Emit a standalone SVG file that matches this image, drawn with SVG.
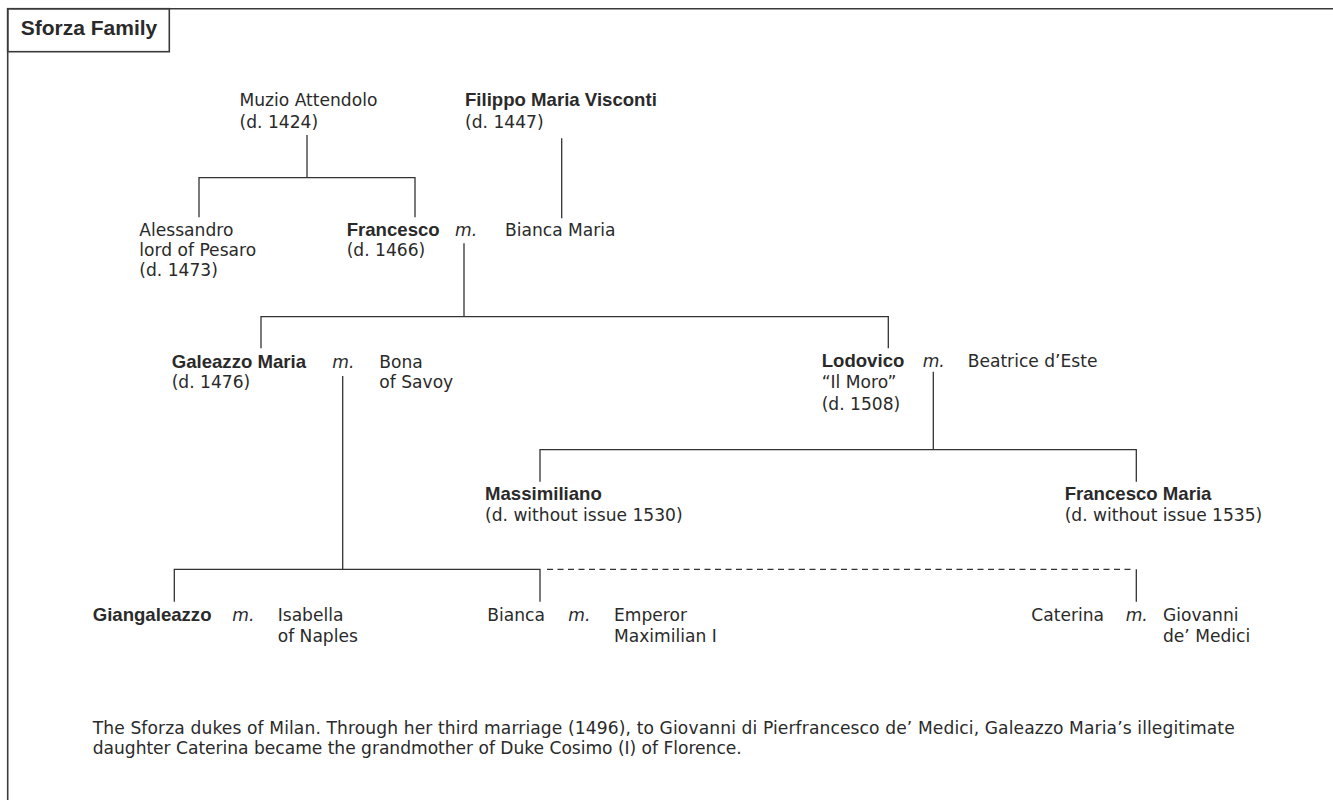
<svg xmlns="http://www.w3.org/2000/svg" width="1333" height="800" viewBox="0 0 1333 800">
<style>
text{font-family:"DejaVu Sans","Liberation Sans",Arial,sans-serif;font-size:17.1px;fill:#2a2a2a}
.b{font-family:"Liberation Sans",Arial,sans-serif;font-weight:bold;font-size:18.6px}
.i{font-style:italic}
.t{font-family:"Liberation Sans",Arial,sans-serif;font-weight:bold;font-size:21px}
.ln{fill:none;stroke:#333;stroke-width:1.3}
.d{stroke-dasharray:6 4.5}
.frame{fill:none;stroke:#3a3a3a;stroke-width:1.6}
</style>
<rect width="1333" height="800" fill="#fff"/>
<path class="frame" d="M7.7 800 V8.7 H1333"/>
<g id="title">
<rect class="frame" x="7.7" y="8.7" width="161.6" height="43"/>
<text class="t" x="20.7" y="35">Sforza Family</text>
</g>
<g id="connectors">
<path class="ln" d="M307 135 V177.7 M199 217.3 V177.7 H415 V217.3"/>
<path class="ln" d="M561.7 138.3 V218.3"/>
<path class="ln" d="M464 243.3 V316.7 M261 348.3 V316.7 H888.3 V348.3"/>
<path class="ln" d="M342.7 376 V569.3 M174.3 601.7 V569.3 H540 V601.7"/>
<path class="ln" d="M933.3 371.7 V449.7 M540 481.7 V449.7 H1136.3 V481.7"/>
<path class="ln d" d="M547 569.3 H1135"/>
<path class="ln" d="M1136.3 569.3 V601.7"/>
</g>
<g id="muzio"><text x="239.5" y="106">Muzio Attendolo<tspan x="239.5" y="127.7">(d. 1424)</tspan></text></g>
<g id="filippo"><text x="465" y="106"><tspan class="b">Filippo Maria Visconti</tspan><tspan x="465" y="128">(d. 1447)</tspan></text></g>
<g id="alessandro"><text x="139.3" y="235.7">Alessandro<tspan x="139.3" y="255.7">lord of Pesaro</tspan><tspan x="139.3" y="275.7">(d. 1473)</tspan></text></g>
<g id="francesco"><text x="346.7" y="235.7"><tspan class="b">Francesco</tspan><tspan x="346.7" y="255.7">(d. 1466)</tspan></text><text class="i" x="455" y="235.7">m.</text></g>
<g id="bianca-maria"><text x="505" y="235.7">Bianca Maria</text></g>
<g id="galeazzo"><text x="171.7" y="367.5"><tspan class="b">Galeazzo Maria</tspan><tspan x="171.7" y="388">(d. 1476)</tspan></text><text class="i" x="332.3" y="367.5">m.</text></g>
<g id="bona"><text x="379.3" y="367.5">Bona<tspan x="379.3" y="388">of Savoy</tspan></text></g>
<g id="lodovico"><text x="821.7" y="367"><tspan class="b">Lodovico</tspan><tspan x="821.7" y="388.3">“Il Moro”</tspan><tspan x="821.7" y="410">(d. 1508)</tspan></text><text class="i" x="922.7" y="367">m.</text></g>
<g id="beatrice"><text x="967.7" y="367">Beatrice d’Este</text></g>
<g id="massimiliano"><text x="485" y="499.5"><tspan class="b">Massimiliano</tspan><tspan x="485" y="520.7">(d. without issue 1530)</tspan></text></g>
<g id="francesco-maria"><text x="1064.7" y="500"><tspan class="b">Francesco Maria</tspan><tspan x="1064.7" y="521">(d. without issue 1535)</tspan></text></g>
<g id="giangaleazzo"><text class="b" x="92.7" y="620.7">Giangaleazzo</text><text class="i" x="232.3" y="620.7">m.</text></g>
<g id="isabella"><text x="277.7" y="620.7">Isabella<tspan x="277.7" y="641.7">of Naples</tspan></text></g>
<g id="bianca"><text x="487.3" y="620.7">Bianca</text><text class="i" x="568.3" y="620.7">m.</text></g>
<g id="maximilian"><text x="614" y="620.7">Emperor<tspan x="614" y="641.7">Maximilian I</tspan></text></g>
<g id="caterina"><text x="1031.3" y="620.7">Caterina</text><text class="i" x="1125.7" y="620.7">m.</text></g>
<g id="giovanni"><text x="1163" y="620.7">Giovanni<tspan x="1163" y="642">de’ Medici</tspan></text></g>
<g id="caption">
<text x="92.7" y="733.5"><tspan textLength="1142" lengthAdjust="spacing">The Sforza dukes of Milan. Through her third marriage (1496), to Giovanni di Pierfrancesco de’ Medici, Galeazzo Maria’s illegitimate</tspan><tspan x="92.7" y="753.6" textLength="649" lengthAdjust="spacing">daughter Caterina became the grandmother of Duke Cosimo (I) of Florence.</tspan></text>
</g>
</svg>
